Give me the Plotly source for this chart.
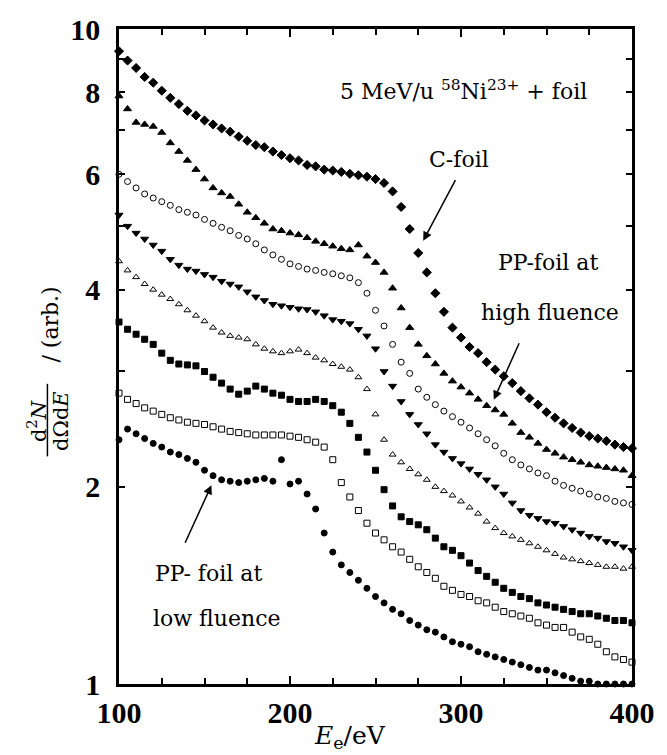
import plotly.graph_objects as go

E = list(range(100, 401, 5))

c_foil = [9.25, 8.95, 8.72, 8.45, 8.28, 8.05, 7.85, 7.68, 7.5, 7.38,
          7.25, 7.15, 7.05, 6.97, 6.85, 6.75, 6.65, 6.6, 6.5, 6.42,
          6.35, 6.3, 6.2, 6.17, 6.1, 6.08, 6.05, 6.01, 5.98, 5.95,
          5.9, 5.82, 5.65, 5.35, 4.95, 4.55, 4.25, 3.95, 3.7, 3.5,
          3.38, 3.27, 3.2, 3.1, 3.02, 2.95, 2.88, 2.8, 2.73, 2.67,
          2.6, 2.55, 2.5, 2.46, 2.42, 2.39, 2.37, 2.35, 2.32, 2.3, 2.29]

pp_high = [7.9, 7.55, 7.2, 7.15, 7.1, 6.95, 6.7, 6.5, 6.3, 6.1,
           5.9, 5.72, 5.62, 5.55, 5.4, 5.25, 5.15, 5.05, 4.95, 4.92,
           4.88, 4.85, 4.8, 4.74, 4.7, 4.66, 4.62, 4.6, 4.68, 4.5,
           4.4, 4.25, 4.02, 3.75, 3.5, 3.3, 3.17, 3.08, 2.98, 2.9,
           2.84, 2.78, 2.72, 2.66, 2.62, 2.58, 2.5, 2.42, 2.38, 2.33,
           2.28, 2.25, 2.22, 2.2, 2.18, 2.16, 2.15, 2.14, 2.13, 2.12, 2.08]

pp_open_circle = [6.0, 5.85, 5.72, 5.6, 5.52, 5.45, 5.38, 5.3, 5.25, 5.2,
                  5.12, 5.05, 4.98, 4.92, 4.84, 4.78, 4.7, 4.6, 4.52, 4.45,
                  4.38, 4.34, 4.3, 4.28, 4.25, 4.23, 4.2, 4.17, 4.1, 3.95,
                  3.72, 3.52, 3.3, 3.1, 2.98, 2.82, 2.74, 2.67, 2.61, 2.56,
                  2.51, 2.46, 2.41, 2.36, 2.31, 2.25, 2.2, 2.16, 2.13, 2.1,
                  2.08, 2.04, 2.01, 1.99, 1.97, 1.95, 1.93, 1.92, 1.9, 1.89, 1.88]

pp_tri_down = [5.2, 5.0, 4.88, 4.78, 4.68, 4.58, 4.45, 4.36, 4.3, 4.27,
               4.22, 4.18, 4.12, 4.08, 4.04, 3.97, 3.9, 3.85, 3.8, 3.78,
               3.76, 3.74, 3.73, 3.7, 3.65, 3.6, 3.58, 3.55, 3.48, 3.4,
               3.25, 3.0, 2.85, 2.7, 2.58, 2.49, 2.41, 2.32, 2.26, 2.21,
               2.17, 2.13, 2.09, 2.05, 2.0, 1.95, 1.89, 1.84, 1.81, 1.79,
               1.77, 1.76, 1.74, 1.72, 1.7, 1.68, 1.67, 1.65, 1.64, 1.62, 1.6]

pp_open_tri = [4.42, 4.28, 4.18, 4.08, 4.0, 3.93, 3.87, 3.8, 3.72, 3.65,
               3.58, 3.5, 3.44, 3.4, 3.38, 3.36, 3.3, 3.25, 3.22, 3.2,
               3.22, 3.24, 3.2, 3.15, 3.12, 3.08, 3.05, 3.02, 2.94, 2.82,
               2.58, 2.36, 2.24, 2.18, 2.13, 2.09, 2.05, 2.0, 1.97, 1.94,
               1.9, 1.86, 1.82, 1.77, 1.73, 1.7, 1.68, 1.66, 1.64, 1.62,
               1.6, 1.58, 1.56, 1.55, 1.54, 1.53, 1.52, 1.51, 1.51, 1.5, 1.51]

pp_square = [3.57, 3.48, 3.42, 3.36, 3.3, 3.2, 3.12, 3.08, 3.07, 3.06,
             3.0, 2.94, 2.88, 2.82, 2.77, 2.8, 2.85, 2.82, 2.78, 2.76,
             2.72, 2.7, 2.7, 2.72, 2.7, 2.66, 2.6, 2.5, 2.38, 2.26,
             2.12, 1.98, 1.87, 1.8, 1.77, 1.75, 1.72, 1.67, 1.62, 1.6,
             1.57, 1.53, 1.49, 1.46, 1.43, 1.4, 1.38, 1.36, 1.35, 1.33,
             1.32, 1.31, 1.3, 1.29, 1.28, 1.28, 1.27, 1.26, 1.25, 1.25, 1.24]

pp_open_square = [2.78, 2.72, 2.68, 2.64, 2.61, 2.58, 2.55, 2.53, 2.51, 2.5,
                  2.49, 2.47, 2.45, 2.43, 2.42, 2.41, 2.4, 2.4, 2.4, 2.4,
                  2.39, 2.38, 2.36, 2.34, 2.3, 2.2, 2.03, 1.93, 1.84, 1.76,
                  1.7, 1.66, 1.62, 1.59, 1.55, 1.51, 1.48, 1.45, 1.41, 1.39,
                  1.37, 1.36, 1.34, 1.33, 1.31, 1.29, 1.28, 1.27, 1.26, 1.24,
                  1.23, 1.22, 1.22, 1.2, 1.18, 1.17, 1.15, 1.12, 1.1, 1.09, 1.08]

pp_low = [2.36, 2.45, 2.41, 2.37, 2.33, 2.3, 2.26, 2.24, 2.21, 2.18,
          2.12, 2.08, 2.05, 2.04, 2.03, 2.04, 2.05, 2.06, 2.04, 2.2,
          2.02, 2.04, 1.95, 1.85, 1.7, 1.59, 1.52, 1.48, 1.44, 1.4,
          1.36, 1.33, 1.3, 1.28, 1.25, 1.23, 1.21, 1.2, 1.18, 1.16,
          1.15, 1.14, 1.12, 1.11, 1.1, 1.09, 1.08, 1.07, 1.06, 1.05,
          1.05, 1.04, 1.03, 1.02, 1.01, 1.01, 1.0, 1.0, 1.0, 1.0, 1.0]

x_tickvals = [100, 200, 300, 400]
x_minorvals = [125, 150, 175, 225, 250, 275, 325, 350, 375]
y_tickvals = [1, 2, 4, 6, 8, 10]
y_minorvals = [3, 5, 7, 9]

series = [
    (c_foil, "diamond", 7),
    (pp_high, "triangle-up", 7),
    (pp_open_circle, "circle-open", 6),
    (pp_tri_down, "triangle-down", 7),
    (pp_open_tri, "triangle-up-open", 6),
    (pp_square, "square", 6),
    (pp_open_square, "square-open", 6),
    (pp_low, "circle", 6),
]

fig = go.Figure()
for vals, sym, sz in series:
    fig.add_trace(go.Scatter(
        x=E, y=vals, mode="markers",
        marker=dict(symbol=sym, size=sz, color="black",
                    line=dict(color="black", width=1)),
        showlegend=False, cliponaxis=False))

# plot frame in pixels
L, R, T, B = 119, 635, 25, 684
W, H = 667, 755


def P(px, py):
    return (px - L) / (R - L), (B - py) / (B - T)


tickserif = "Liberation Serif"
serif = "DejaVu Serif"
tickfont = dict(family=tickserif, size=30, color="black", weight="bold")

fig.update_layout(
    width=W, height=H,
    margin=dict(l=L, r=W - R, t=T, b=H - B, pad=0),
    paper_bgcolor="white", plot_bgcolor="white",
    showlegend=False,
)
fig.update_xaxes(
    range=[100, 400], showgrid=False, zeroline=False,
    showline=True, linecolor="black", linewidth=2.5, mirror="ticks",
    ticks="inside", ticklen=8, tickwidth=1.5, tickcolor="black",
    tickmode="array", tickvals=x_tickvals, tickfont=tickfont,
    minor=dict(tickmode="array", tickvals=x_minorvals, ticks="inside",
               ticklen=6, tickwidth=1.5, tickcolor="black", showgrid=False),
    ticklabelstandoff=0,
)
fig.update_yaxes(
    type="log", range=[0, 1], showgrid=False, zeroline=False,
    showline=True, linecolor="black", linewidth=2.5, mirror="ticks",
    ticks="inside", ticklen=6, tickwidth=1.5, tickcolor="black",
    tickmode="array", tickvals=y_tickvals,
    ticktext=[str(v) for v in y_tickvals], tickfont=tickfont,
    minor=dict(tickmode="array", tickvals=y_minorvals, ticks="inside",
               ticklen=6, tickwidth=1.5, tickcolor="black", showgrid=False),
    ticklabelstandoff=10,
)


def text(px, py, s, size=21, angle=0, weight="normal"):
    x, y = P(px, py)
    fig.add_annotation(x=x, y=y, xref="paper", yref="paper", text=s,
                       showarrow=False, textangle=angle,
                       font=dict(family=serif, size=size, color="black",
                                 weight=weight),
                       xanchor="center", yanchor="middle")


def arrow(tail, head):
    hx, hy = P(*head)
    fig.add_annotation(x=hx, y=hy, ax=tail[0] - head[0], ay=tail[1] - head[1],
                       xref="paper", yref="paper", axref="pixel", ayref="pixel",
                       text="", showarrow=True,
                       arrowhead=2, arrowsize=1.2, arrowwidth=1.5,
                       arrowcolor="black")


text(466, 86, "5 MeV/u <sup>58</sup>Ni<sup>23+</sup> + foil", size=22)
text(461, 156, "C-foil", size=22)
text(551, 260, "PP-foil at", size=22)
text(553, 310, "high fluence", size=22)
text(209, 573, "PP- foil at", size=22)
text(217, 618, "low fluence", size=22)

arrow((458, 176), (425, 238))
arrow((522, 340), (496, 398))
arrow((185, 543), (212, 484))

# x-axis title
text(351, 737, "<i>E</i><sub>e</sub>/eV", size=25)

# y-axis title (fraction)
text(36, 419, "d<sup>2</sup><i>N</i>", size=21, angle=-90)
text(60, 419, "dΩd<i>E</i>", size=21, angle=-90)
x0, y0 = P(47, 455)
x1, y1 = P(47, 382)
fig.add_shape(type="line", xref="paper", yref="paper", x0=x0, y0=y0,
              x1=x1, y1=y1, line=dict(color="black", width=1.5))
text(50, 322, "/ (arb.)", size=22, angle=-90)

fig.write_html("out.html")
